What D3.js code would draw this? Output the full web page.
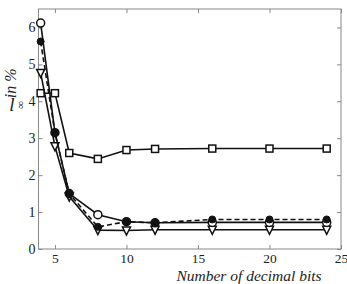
<!DOCTYPE html>
<html>
<head>
<meta charset="utf-8">
<script src="https://cdn.jsdelivr.net/npm/d3@7"></script>
<style>
  body { margin: 0; background: #fff; }
  svg { display: block; }
  svg text { font-family: "Liberation Serif", "Times New Roman", "DejaVu Serif", serif; }
</style>
</head>
<body>
<div class="container"></div>
<script>
// values
const bits = [4, 5, 6, 8, 10, 12, 16, 20, 24];
const openCircle = [6.12, 3.15, 1.5, 0.93, 0.74, 0.71, 0.72, 0.72, 0.72];
const filledCircle = [5.62, 3.15, 1.5, 0.6, 0.74, 0.71, 0.8, 0.8, 0.8];
const triangle = [4.77, 2.78, 1.42, 0.51, 0.5, 0.52, 0.52, 0.52, 0.52];
const square = [4.22, 4.22, 2.6, 2.44, 2.68, 2.71, 2.72, 2.72, 2.72];
const xTicks = [5, 10, 15, 20, 25];
const yTicks = [0, 1, 2, 3, 4, 5, 6];

const width = 347, height = 284;
const margin = { top: 9, right: 6, bottom: 35, left: 38.5 };

const svg = d3.select(".container").append("svg")
  .attr("width", width)
  .attr("height", height);

const x = d3.scaleLinear().domain([3.85, 25]).range([margin.left, width - margin.right]);
const y = d3.scaleLinear().domain([0, 6.5]).range([height - margin.bottom, margin.top]);

const axisColor = "#888";

// frame
svg.append("rect")
  .attr("x", x.range()[0]).attr("y", y.range()[1])
  .attr("width", x.range()[1] - x.range()[0])
  .attr("height", y.range()[0] - y.range()[1])
  .attr("fill", "none").attr("stroke", axisColor).attr("stroke-width", 1);

function styleAxis(g, size) {
  g.attr("font-family", null).attr("font-size", null);
  g.select(".domain").remove();
  g.selectAll(".tick line").attr("stroke", axisColor);
  g.selectAll(".tick text").attr("fill", "#222").style("font-size", size + "px");
}

svg.append("g")
  .attr("transform", `translate(0,${y.range()[0]})`)
  .call(d3.axisBottom(x).tickValues(xTicks).tickSizeInner(-4).tickSizeOuter(0).tickPadding(4).tickFormat(d3.format("d")))
  .call(styleAxis, 13.5);
svg.append("g")
  .attr("transform", `translate(0,${y.range()[1]})`)
  .call(d3.axisTop(x).tickValues(xTicks).tickSizeInner(-4).tickSizeOuter(0).tickFormat(""))
  .call(styleAxis, 13.5);
svg.append("g")
  .attr("transform", `translate(${x.range()[0]},0)`)
  .call(d3.axisLeft(y).tickValues(yTicks).tickSizeInner(-4).tickSizeOuter(0).tickPadding(3).tickFormat(d3.format("d")))
  .call(styleAxis, 14);
svg.append("g")
  .attr("transform", `translate(${x.range()[1]},0)`)
  .call(d3.axisRight(y).tickValues(yTicks).tickSizeInner(-4).tickSizeOuter(0).tickFormat(""))
  .call(styleAxis, 14);

const series = [
  { values: square, marker: "square", dash: null },
  { values: triangle, marker: "triangle", dash: null },
  { values: openCircle, marker: "circle", dash: null },
  { values: filledCircle, marker: "dot", dash: "5,3" }
];

const line = d3.line().x((d) => x(d[0])).y((d) => y(d[1]));

const gSeries = svg.append("g");
series.forEach((s) => {
  const pts = bits.map((b, i) => [b, s.values[i]]);
  gSeries.append("path")
    .datum(pts)
    .attr("d", line)
    .attr("fill", "none")
    .attr("stroke", "#111")
    .attr("stroke-width", 1.6)
    .attr("stroke-dasharray", s.dash);

  const m = gSeries.append("g").selectAll("g").data(pts).join("g")
    .attr("transform", (d) => `translate(${x(d[0])},${y(d[1])})`);
  if (s.marker === "square") {
    m.append("rect").attr("x", -3.5).attr("y", -3.5).attr("width", 7).attr("height", 7)
      .attr("fill", "#fff").attr("stroke", "#111").attr("stroke-width", 1.5);
  } else if (s.marker === "triangle") {
    m.append("path").attr("d", "M-4,-3.5L4,-3.5L0,4.5Z")
      .attr("fill", "#fff").attr("stroke", "#111").attr("stroke-width", 1.5);
  } else if (s.marker === "circle") {
    m.append("circle").attr("r", 4)
      .attr("fill", "#fff").attr("stroke", "#111").attr("stroke-width", 1.5);
  } else {
    m.append("circle").attr("r", 3.5)
      .attr("fill", "#111").attr("stroke", "#111").attr("stroke-width", 1);
  }
});

// axis labels
svg.append("text")
  .attr("x", 249).attr("y", 280.5)
  .attr("text-anchor", "middle")
  .style("font-size", "15.5px").style("font-style", "italic")
  .attr("fill", "#222")
  .text("Number of decimal bits");

// y label: the "l" sits upright in the scan, the rest is rotated
svg.append("text")
  .attr("x", 12).attr("y", 111)
  .attr("text-anchor", "middle")
  .style("font-size", "19px").style("font-style", "italic")
  .attr("fill", "#222")
  .text("l");

const yl = svg.append("text")
  .attr("transform", "translate(16,109) rotate(-90)")
  .attr("text-anchor", "start")
  .attr("fill", "#222");
yl.append("tspan").attr("dy", 8).style("font-size", "11px").text("∞");
yl.append("tspan").attr("dy", -8).attr("dx", 3).style("font-size", "16px").style("font-style", "italic").text("in %");
</script>
</body>
</html>
